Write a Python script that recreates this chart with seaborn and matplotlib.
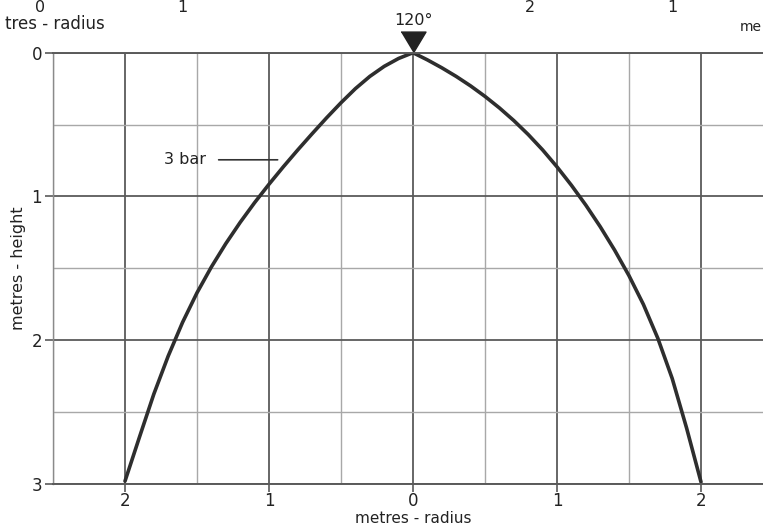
import numpy as np
import pandas as pd
import matplotlib
matplotlib.use("Agg")
import matplotlib.pyplot as plt
import matplotlib.transforms as mtransforms
import seaborn as sns

# ---- data ----
left_radius = [0.0, 0.1, 0.2, 0.3, 0.4, 0.5, 0.6, 0.7, 0.8, 0.9, 1.0, 1.1, 1.2, 1.3, 1.4, 1.5, 1.6, 1.7, 1.8, 1.9, 2.0]
left_height = [0.0, 0.04, 0.095, 0.165, 0.25, 0.348, 0.453, 0.563, 0.676, 0.793, 0.915, 1.043, 1.18, 1.328,
               1.49, 1.67, 1.875, 2.11, 2.375, 2.675, 2.98]
right_radius = [0.0, 0.1, 0.2, 0.3, 0.4, 0.5, 0.6, 0.7, 0.8, 0.9, 1.0, 1.1, 1.2, 1.3, 1.4, 1.5, 1.6, 1.7, 1.8, 1.9, 2.0]
right_height = [0.0, 0.05, 0.105, 0.165, 0.231, 0.304, 0.384, 0.472, 0.569, 0.676, 0.794, 0.922, 1.06, 1.21,
                1.373, 1.551, 1.751, 1.986, 2.266, 2.611, 2.986]

x_ticks = [-2, -1, 0, 1, 2]
x_tick_labels = ["2", "1", "0", "1", "2"]
y_ticks = [0, 1, 2, 3]
y_tick_labels = ["0", "1", "2", "3"]
top_axis_labels = ["0", "1", "2", "1"]
top_left_fragment = "tres - radius"
top_right_fragment = "me"
angle_label = "120°"
curve_label = "3 bar"
x_label = "metres - radius"
y_label = "metres - height"

df = pd.concat([
    pd.DataFrame({"x": [-r for r in left_radius][::-1], "h": left_height[::-1]}),
    pd.DataFrame({"x": right_radius[1:], "h": right_height[1:]}),
], ignore_index=True)
df["curve"] = curve_label

sns.set_theme(style="white")
plt.rcParams["font.family"] = ["DejaVu Sans"]

W, H = 763, 527
fig = plt.figure(figsize=(W / 100, H / 100), dpi=100)
ax_h = 484 - 52.7
ax = fig.add_axes([53 / W, (H - 484) / H, 720 / W, ax_h / H])

dark = "#5a5a5a"
light = "#a8a8a8"
ink = "#2e2e2e"
txt = "#222222"

ax.set_xlim(-2.5, 2.5)
ax.set_ylim(3, 0)
ax.set_xticks(x_ticks)
ax.set_xticklabels(x_tick_labels)
ax.set_xticks(np.arange(-2.5, 2.51, 0.5), minor=True)
ax.set_yticks(y_ticks)
ax.set_yticklabels(y_tick_labels)
ax.set_yticks(np.arange(0, 3.01, 0.5), minor=True)
ax.grid(which="major", color=dark, linewidth=1.3)
ax.grid(which="minor", color=light, linewidth=1.0)
ax.set_axisbelow(True)

sns.lineplot(data=df, x="x", y="h", units="curve", estimator=None, sort=False,
             color=ink, linewidth=2.6, ax=ax, legend=False,
             solid_joinstyle="round", solid_capstyle="round")

for side, sp in ax.spines.items():
    sp.set_color(dark)
    sp.set_linewidth(1.4)
ax.spines["left"].set_color("#8a8a8a")
ax.spines["left"].set_linewidth(1.0)

ax.tick_params(axis="x", which="major", direction="out", length=6, width=1.2,
               color=dark, labelsize=12, pad=0, labelcolor=txt, bottom=True)
ax.tick_params(axis="y", which="major", direction="out", length=6, width=1.2,
               color=dark, labelsize=12, pad=2, labelcolor=txt, left=True)
ax.tick_params(which="minor", length=0)

ax.set_xlabel(x_label, fontsize=11, color=txt)
ax.xaxis.set_label_coords(0.5, -(518.5 - 484) / ax_h)
ax.xaxis.label.set_verticalalignment("center")
ax.set_ylabel(y_label, fontsize=11.5, color=txt)
ax.yaxis.set_label_coords(-(53 - 19) / 720, 0.5)
ax.yaxis.label.set_verticalalignment("center")
ax.yaxis.label.set_horizontalalignment("center")

# nozzle marker with angle label
tri = [(-1.2, 1), (1.2, 1), (0, -1)]
offset = mtransforms.ScaledTranslation(0, 7.4 / 72, fig.dpi_scale_trans)
ax.plot([0], [0], marker=tri, markersize=18, color=txt, clip_on=False,
        transform=ax.transData + offset)
ax.text(0, 0, angle_label,
        transform=ax.transData + mtransforms.ScaledTranslation(0, 23.5 / 72, fig.dpi_scale_trans),
        ha="center", va="center", fontsize=11.5, color=txt, clip_on=False)

# curve label with leader line
ax.annotate(curve_label, xy=(-0.94, 0.745), xytext=(-1.44, 0.745),
            ha="right", va="center", fontsize=11.5, color=txt,
            arrowprops=dict(arrowstyle="-", color="#333333", lw=1.2,
                            shrinkA=7, shrinkB=0))

# remnants of the (cropped) chart above
for lbl, px in zip(top_axis_labels, [40, 182, 530, 672]):
    fig.text(px / W, 1 - 7 / H, lbl, ha="center", va="center", fontsize=11.5, color=txt)
fig.text(105 / W, 1 - 24 / H, top_left_fragment, ha="right", va="center", fontsize=12, color=txt)
fig.text(740 / W, 1 - 27 / H, top_right_fragment, ha="left", va="center", fontsize=10, color=txt)

fig.savefig("out.png", dpi=100)
